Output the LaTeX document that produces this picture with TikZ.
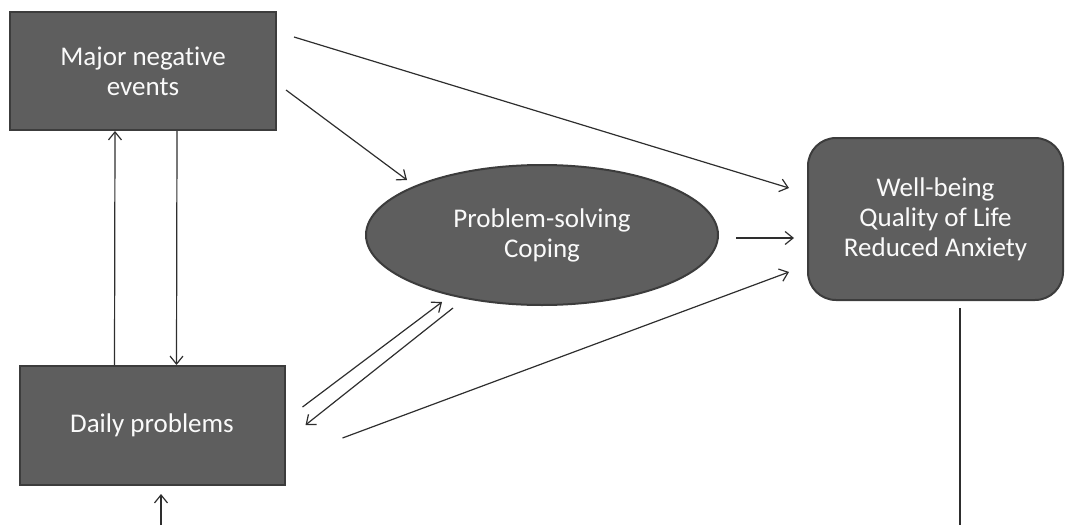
\documentclass[tikz,border=0pt]{standalone}
\usepackage{fontspec}
\setmainfont{Carlito}[Ligatures=NoCommon]
\definecolor{boxgray}{HTML}{5E5E5E}
\definecolor{edgegray}{HTML}{3C3C3C}
\definecolor{linegray}{HTML}{2E2E2E}
\usetikzlibrary{arrows.meta, calc, positioning, shapes.geometric}
\tikzset{
	darkbox/.style={draw=edgegray, line width=2pt, fill=boxgray, text=white!96!gray, align=center, font=\fontsize{27}{30}\selectfont},
	conn/.style={color=linegray, line width=1.2pt, -{Straight Barb[length=8pt,width=13pt,line width=1.2pt]}},
}

\begin{document}
\begin{tikzpicture}[x=1pt, y=-1pt]
	\useasboundingbox (0,0) rectangle (1065,525);
	\node[darkbox, minimum width=266pt, minimum height=118pt] (major) at (143,71) {Major negative\\events};
	\node[darkbox, minimum width=265pt, minimum height=119pt] (daily) at (152,425.5) {Daily problems};
	\node[darkbox, ellipse, minimum width=352pt, minimum height=140pt, inner sep=0pt] (coping) at (542,235) {Problem-solving\\Coping};
	\node[darkbox, rounded corners=28pt, minimum width=255pt, minimum height=162pt] (wellbeing) at (935.5,219) {Well-being\\Quality of Life\\Reduced Anxiety};
	% loose ends of the feedback line
	\coordinate (loopL) at (161,525);
	\coordinate (loopR) at (960,525);
	\draw[conn] ($(major.north east)+(17,26)$) -- ($(wellbeing.west)+(-18,-31)$);
	\draw[conn] ($(major.east)+(9,19)$) -- ($(coping.center)+(-135,-55)$);
	\draw[conn] ($(coping.east)+(17,3)$) -- ($(wellbeing.west)+(-13,19)$);
	\draw[conn] ($(daily.east)+(57,12.5)$) -- ($(wellbeing.west)+(-18,53)$);
	\draw[conn] ($(daily.east)+(17,-18.5)$) -- ($(coping.center)+(-100,67)$);
	\draw[conn] ($(coping.center)+(-89,73)$) -- ($(daily.east)+(20,-0.5)$);
	\draw[conn] ($(daily.north west)+(96,0)$) -- ($(major.south west)+(106,0)$);
	\draw[conn] ($(major.south west)+(168,0)$) -- ($(daily.north west)+(158,0)$);
	\draw[conn] (loopL) -- ($(daily.south)+(9,8)$);
	\draw[color=linegray, line width=1.6pt] ($(wellbeing.south)+(24.5,7)$) -- (loopR);
\end{tikzpicture}
\end{document}
